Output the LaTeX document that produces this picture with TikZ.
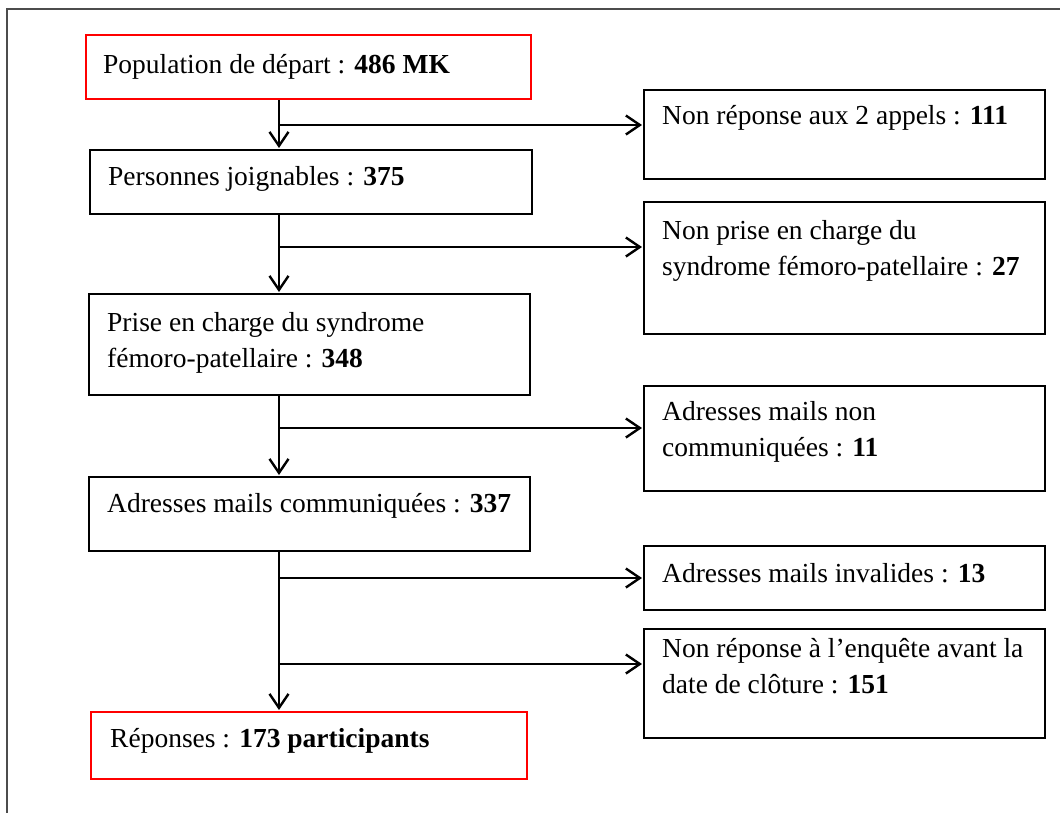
\documentclass[tikz,border=0pt]{standalone}
\usepackage{fontspec}
\setmainfont{Liberation Serif}
\usetikzlibrary{arrows.meta}
\begin{document}
\begin{tikzpicture}[x=1pt,y=-1pt,
  box/.style={draw=black, line width=2.4pt, rectangle, anchor=north west, inner sep=0pt},
  redbox/.style={box, draw=red},
  txt/.style={anchor=base west, inner sep=0pt, font=\fontsize{27.5}{36}\selectfont},
  arr/.style={line width=2.4pt, -{Straight Barb[length=14pt,width=19pt]}, shorten >=1pt},
  ]
\useasboundingbox (0,0) rectangle (1060,812);
\draw[line width=1.6pt, black!70] (1062,9) -- (7,9) -- (7,814);
% left column
\node[redbox, minimum width=445pt, minimum height=64pt] (b1) at (85,34) {};
\node[box, minimum width=442pt, minimum height=64pt] (b2) at (89,149) {};
\node[box, minimum width=441pt, minimum height=101pt] (b3) at (88,293) {};
\node[box, minimum width=441pt, minimum height=74pt] (b4) at (88,476) {};
\node[redbox, minimum width=436pt, minimum height=67pt] (b5) at (90,711) {};
% right column
\node[box, minimum width=401pt, minimum height=89pt] (r1) at (643,89) {};
\node[box, minimum width=401pt, minimum height=132pt] (r2) at (643,201) {};
\node[box, minimum width=401pt, minimum height=105pt] (r3) at (643,385) {};
\node[box, minimum width=401pt, minimum height=64pt] (r4) at (643,545) {};
\node[box, minimum width=401pt, minimum height=109pt] (r5) at (643,628) {};
% texts
\node[txt] (t1) at (103,73) {Population de départ : \textbf{486 MK}};
\node[txt] (t2) at (108,185) {Personnes joignables : \textbf{375}};
\node[txt] (t3) at (107,331) {\begin{tabular}[t]{@{}l@{}}Prise en charge du syndrome\\fémoro-patellaire : \textbf{348}\end{tabular}};
\node[txt] (t4) at (107,512) {Adresses mails communiquées : \textbf{337}};
\node[txt] (t5) at (110,747) {Réponses : \textbf{173 participants}};
\node[txt] (s1) at (662,124) {Non réponse aux 2 appels : \textbf{111}};
\node[txt] (s2) at (662,239) {\begin{tabular}[t]{@{}l@{}}Non prise en charge du\\syndrome fémoro-patellaire : \textbf{27}\end{tabular}};
\node[txt] (s3) at (662,420) {\begin{tabular}[t]{@{}l@{}}Adresses mails non\\communiquées : \textbf{11}\end{tabular}};
\node[txt] (s4) at (662,582) {Adresses mails invalides : \textbf{13}};
\node[txt] (s5) at (662,657) {\begin{tabular}[t]{@{}l@{}}Non réponse à l’enquête avant la\\date de clôture : \textbf{151}\end{tabular}};
% trunk and junctions
\coordinate (tr) at (279,0);
\coordinate (j1) at (279,125);
\coordinate (j2) at (279,247);
\coordinate (j3) at (279,428);
\coordinate (j4) at (279,578);
\coordinate (j5) at (279,664);
\draw[arr] (b1.south -| tr) -- (b2.north -| tr);
\draw[arr] (b2.south -| tr) -- (b3.north -| tr);
\draw[arr] (b3.south -| tr) -- (b4.north -| tr);
\draw[arr] (b4.south -| tr) -- (b5.north -| tr);
\draw[arr] (j1) -- (j1 -| r1.west);
\draw[arr] (j2) -- (j2 -| r2.west);
\draw[arr] (j3) -- (j3 -| r3.west);
\draw[arr] (j4) -- (j4 -| r4.west);
\draw[arr] (j5) -- (j5 -| r5.west);
\end{tikzpicture}
\end{document}
